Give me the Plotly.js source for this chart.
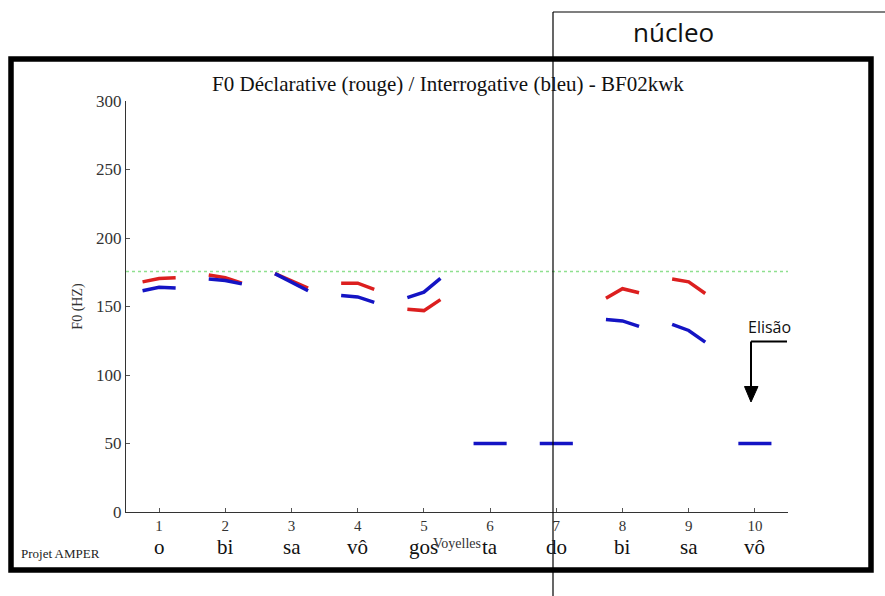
<!DOCTYPE html>
<html>
<head>
<meta charset="utf-8">
<script src="https://cdn.plot.ly/plotly-3.0.1.min.js"></script>
<style>html,body{margin:0;padding:0;background:#fff;}#chart{width:885px;height:596px;}</style>
</head>
<body>
<div id="chart"></div>
<script>
// ---- data ----
const vowelPositions = [1, 2, 3, 4, 5, 6, 7, 8, 9, 10];
const syllables = ["o", "bi", "sa", "vô", "gos", "ta", "do", "bi", "sa", "vô"];
// F0 (Hz) at start / middle / end of each vowel
const declarativeRed = [
  [168, 170.5, 171], [173, 171, 167], [174, 168.5, 163.5], [167, 167, 162.5], [148, 147, 155],
  null, null, [156, 163, 160], [170, 168, 159.5], null
];
const interrogativeBlue = [
  [161.5, 164, 163.5], [170, 169, 166.5], [174, 168, 161.5], [158, 157, 153], [156.5, 160.5, 170.5],
  [50, 50, 50], [50, 50, 50], [140.5, 139.5, 135.5], [137, 132.5, 124], [50, 50, 50]
];
const referenceF0 = 175.5;
const yTicks = [0, 50, 100, 150, 200, 250, 300];

// ---- build traces ----
const offs = [-0.25, 0, 0.25];
function seg(series) {
  const xs = [], ys = [];
  series.forEach((v, i) => {
    if (!v) return;
    v.forEach((y, k) => { xs.push(vowelPositions[i] + offs[k]); ys.push(y); });
    xs.push(null); ys.push(null);
  });
  return {xs, ys};
}
const r = seg(declarativeRed), b = seg(interrogativeBlue);

const traces = [
  {x: [0.5, 10.5], y: [referenceF0, referenceF0], mode: 'lines', line: {color: '#8fe08f', width: 1.5, dash: 'dot'}, hoverinfo: 'skip'},
  {x: r.xs, y: r.ys, mode: 'lines', line: {color: '#dc1f1f', width: 3.5}, connectgaps: false},
  {x: b.xs, y: b.ys, mode: 'lines', line: {color: '#1414c4', width: 3.5}, connectgaps: false}
];

// geometry helpers (plot area: left 126, right 788, top 101, bottom 512)
const L = 126, R = 788, T = 101, B = 512;
const px = x => (x - L) / (R - L);
const py = y => (B - y) / (B - T);

const serif = 'Liberation Serif, Times New Roman, serif';
const sans = 'Open Sans, Noto Sans, sans-serif';

const annotations = syllables.map((s, i) => ({
  x: vowelPositions[i], xref: 'x', y: py(547), yref: 'paper', text: s, showarrow: false,
  font: {family: serif, size: 21, color: '#111'}, xanchor: 'center', yanchor: 'middle'
}));
annotations.push(
  {x: px(60), y: py(553), xref: 'paper', yref: 'paper', text: 'Projet AMPER', showarrow: false,
   font: {family: serif, size: 13, color: '#222'}, xanchor: 'center', yanchor: 'middle'},
  {x: px(673), y: py(32), xref: 'paper', yref: 'paper', text: 'núcleo', showarrow: false,
   font: {family: sans, size: 26, color: '#111'}, xanchor: 'center', yanchor: 'middle'},
  {x: px(769), y: py(327), xref: 'paper', yref: 'paper', text: 'Elisão', showarrow: false,
   font: {family: sans, size: 16, color: '#111'}, xanchor: 'center', yanchor: 'middle'}
);

const shapes = [
  {type: 'rect', xref: 'paper', yref: 'paper', x0: px(11), x1: px(871), y0: py(570), y1: py(59),
   line: {color: '#000', width: 5.5}, layer: 'above'},
  {type: 'line', xref: 'paper', yref: 'paper', x0: px(553), x1: px(553), y0: py(600), y1: py(12),
   line: {color: '#000', width: 1.2}, layer: 'above'},
  {type: 'line', xref: 'paper', yref: 'paper', x0: px(553), x1: px(890), y0: py(12), y1: py(12),
   line: {color: '#000', width: 1.2}, layer: 'above'},
  {type: 'line', xref: 'paper', yref: 'paper', x0: px(751), x1: px(787), y0: py(341.5), y1: py(341.5),
   line: {color: '#000', width: 2}, layer: 'above'},
  {type: 'line', xref: 'paper', yref: 'paper', x0: px(751), x1: px(751), y0: py(341.5), y1: py(388),
   line: {color: '#000', width: 2}, layer: 'above'},
  {type: 'path', xref: 'paper', yref: 'paper',
   path: `M ${px(744.5)} ${py(386.5)} L ${px(758)} ${py(386.5)} L ${px(751)} ${py(402)} Z`,
   fillcolor: '#000', line: {color: '#000', width: 1}, layer: 'above'}
];

const layout = {
  width: 885, height: 596,
  margin: {l: L, r: 885 - R, t: T, b: 596 - B},
  paper_bgcolor: '#fff', plot_bgcolor: '#fff',
  showlegend: false,
  title: {text: 'F0 Déclarative (rouge) / Interrogative (bleu) - BF02kwk', font: {family: serif, size: 21, color: '#111'},
          x: 448 / 885, xref: 'container', xanchor: 'center', y: 1 - 84 / 596, yref: 'container', yanchor: 'middle'},
  xaxis: {range: [0.5, 10.5], tickvals: vowelPositions, ticktext: vowelPositions.map(String),
          showline: true, linecolor: '#333', linewidth: 1, showgrid: false, zeroline: false,
          ticks: 'inside', ticklen: 4, tickcolor: '#555', tickfont: {family: serif, size: 15, color: '#333'},
          title: {text: 'Voyelles', font: {family: serif, size: 14, color: '#333'}, standoff: 5},
          automargin: false, fixedrange: true},
  yaxis: {range: [0, 300], tickvals: yTicks, showline: true, linecolor: '#333', linewidth: 1, showgrid: false, zeroline: false,
          ticks: 'inside', ticklen: 4, tickcolor: '#555', tickfont: {family: serif, size: 17, color: '#333'},
          title: {text: 'F0 (HZ)', font: {family: serif, size: 14, color: '#333'}, standoff: 10},
          automargin: false, fixedrange: true},
  annotations, shapes
};

Plotly.newPlot('chart', traces, layout, {staticPlot: true});
</script>
</body>
</html>
